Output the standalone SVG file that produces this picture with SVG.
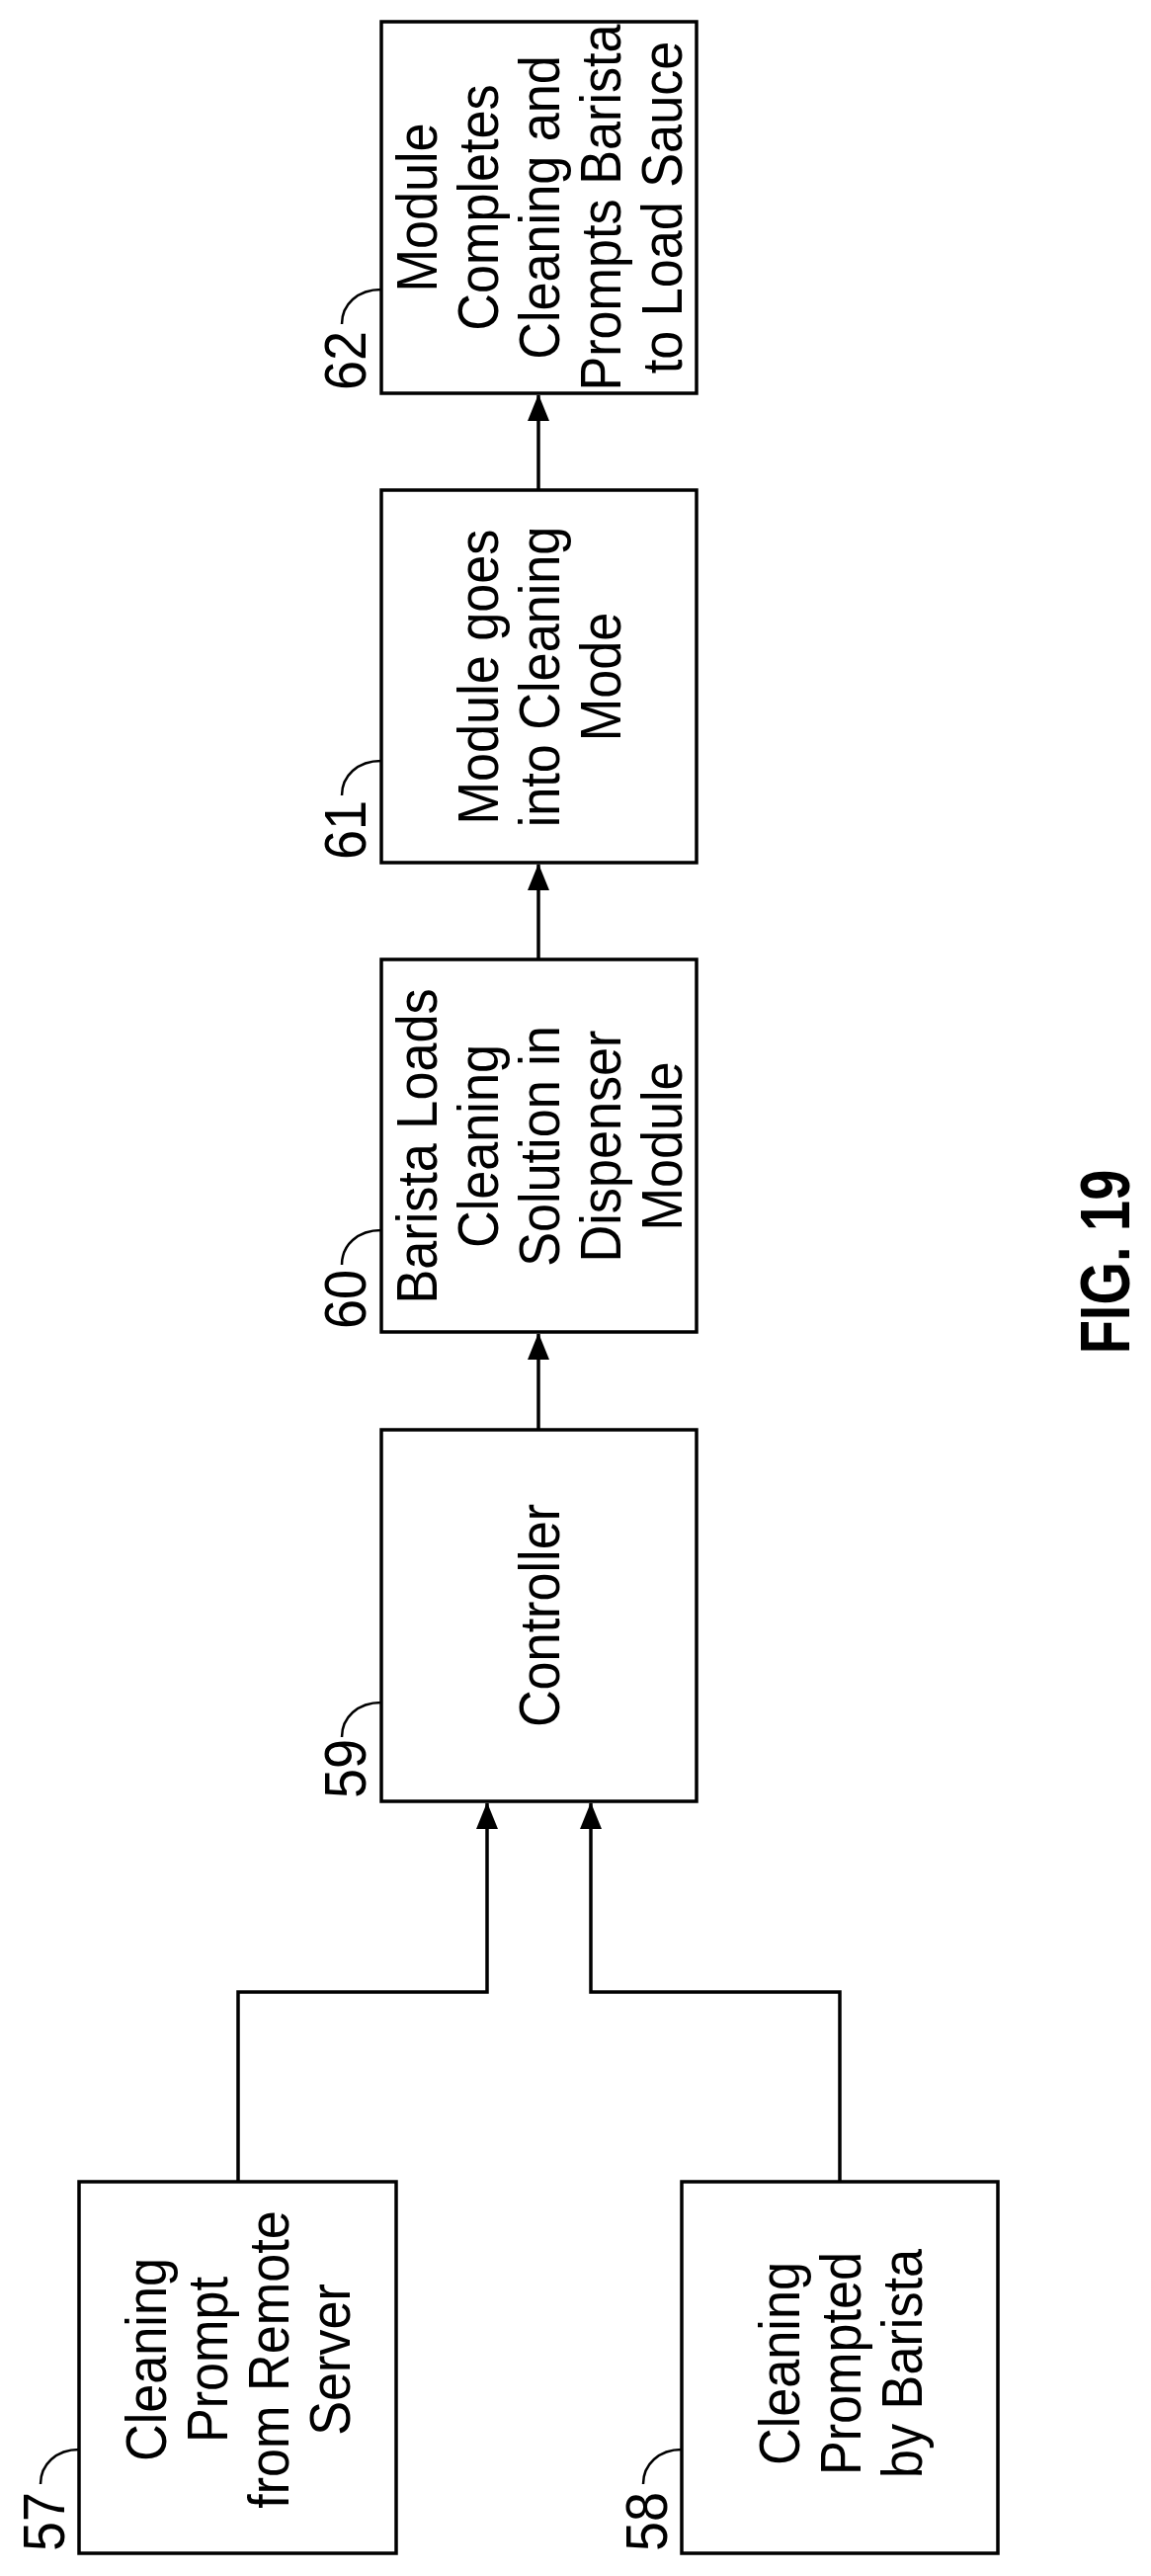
<svg xmlns="http://www.w3.org/2000/svg" width="1165" height="2607" viewBox="0 0 1165 2607">
<style>
.box{fill:#fff;stroke:#000;stroke-width:3.5}
.t{font-family:"Liberation Sans",Arial,sans-serif;font-size:58px;text-anchor:middle;fill:#000}
.lbl{font-family:"Liberation Sans",Arial,sans-serif;font-size:60px;fill:#000}
.ld{fill:none;stroke:#000;stroke-width:2.5}
.c{fill:none;stroke:#000;stroke-width:3.5}
</style>
<defs>
<marker id="ah" markerUnits="userSpaceOnUse" markerWidth="28" markerHeight="24" refX="26" refY="11" orient="auto">
<path d="M0,0 L27,11 L0,22 Z" fill="#000"/>
</marker>
</defs>
<rect width="1165" height="2607" fill="#fff"/>
<g id="connectors">
<path class="c" d="M241,2208 V2016 H493 V1825" marker-end="url(#ah)"/>
<path class="c" d="M850,2208 V2016 H598 V1825" marker-end="url(#ah)"/>
<path class="c" d="M545,1447 V1350" marker-end="url(#ah)"/>
<path class="c" d="M545,971 V875" marker-end="url(#ah)"/>
<path class="c" d="M545,496 V400" marker-end="url(#ah)"/>
</g>
<g id="n62">
<rect class="box" x="386" y="22" width="319" height="376"/>
<g transform="translate(545,210) rotate(-90) scale(0.9,1)">
<text class="t" x="0" y="-103">Module</text>
<text class="t" x="0" y="-41">Completes</text>
<text class="t" x="0" y="21">Cleaning and</text>
<text class="t" x="0" y="83">Prompts Barista</text>
<text class="t" x="0" y="145">to Load Sauce</text>
</g>
<path class="ld" d="M346,328 C346,308 362,293 386,293"/>
<text class="lbl" transform="translate(370,395) rotate(-90) scale(0.9,1)">62</text>
</g>
<g id="n61">
<rect class="box" x="386" y="496" width="319" height="377"/>
<g transform="translate(545,685) rotate(-90) scale(0.9,1)">
<text class="t" x="0" y="-41">Module goes</text>
<text class="t" x="0" y="21">into Cleaning</text>
<text class="t" x="0" y="83">Mode</text>
</g>
<path class="ld" d="M346,805 C346,785 362,770 386,770"/>
<text class="lbl" transform="translate(370,870) rotate(-90) scale(0.9,1)">61</text>
</g>
<g id="n60">
<rect class="box" x="386" y="971" width="319" height="377"/>
<g transform="translate(545,1160) rotate(-90) scale(0.9,1)">
<text class="t" x="0" y="-103">Barista Loads</text>
<text class="t" x="0" y="-41">Cleaning</text>
<text class="t" x="0" y="21">Solution in</text>
<text class="t" x="0" y="83">Dispenser</text>
<text class="t" x="0" y="145">Module</text>
</g>
<path class="ld" d="M346,1280 C346,1260 362,1245 386,1245"/>
<text class="lbl" transform="translate(370,1345) rotate(-90) scale(0.9,1)">60</text>
</g>
<g id="n59">
<rect class="box" x="386" y="1447" width="319" height="376"/>
<g transform="translate(545,1635) rotate(-90) scale(0.9,1)">
<text class="t" x="0" y="21">Controller</text>
</g>
<path class="ld" d="M346,1758 C346,1738 362,1723 386,1723"/>
<text class="lbl" transform="translate(370,1820) rotate(-90) scale(0.9,1)">59</text>
</g>
<g id="n57">
<rect class="box" x="80" y="2208" width="321" height="376"/>
<g transform="translate(240,2388) rotate(-90) scale(0.9,1)">
<text class="t" x="0" y="-72">Cleaning</text>
<text class="t" x="0" y="-10">Prompt</text>
<text class="t" x="0" y="52">from Remote</text>
<text class="t" x="0" y="114">Server</text>
</g>
<path class="ld" d="M41,2514 C41,2494 57,2479 80,2479"/>
<text class="lbl" transform="translate(65,2582) rotate(-90) scale(0.9,1)">57</text>
</g>
<g id="n58">
<rect class="box" x="690" y="2208" width="320" height="376"/>
<g transform="translate(850,2392) rotate(-90) scale(0.9,1)">
<text class="t" x="0" y="-41">Cleaning</text>
<text class="t" x="0" y="21">Prompted</text>
<text class="t" x="0" y="83">by Barista</text>
</g>
<path class="ld" d="M651,2514 C651,2494 667,2479 690,2479"/>
<text class="lbl" transform="translate(675,2582) rotate(-90) scale(0.9,1)">58</text>
</g>
<text transform="translate(1143,1277) rotate(-90) scale(0.8,1)" font-family="Liberation Sans,Arial,sans-serif" font-weight="bold" font-size="70" text-anchor="middle">FIG. 19</text>
</svg>
